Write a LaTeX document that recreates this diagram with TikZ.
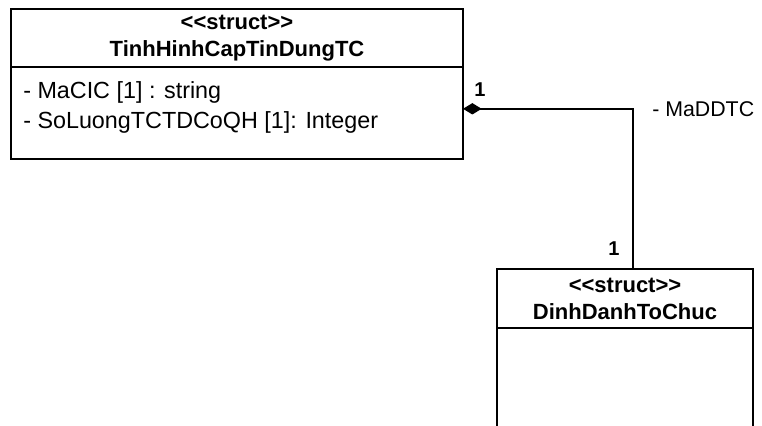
\documentclass[tikz,border=0pt]{standalone}
\usepackage{fontspec}
\setmainfont{Liberation Sans}[Ligatures=TeXOff]
\usetikzlibrary{positioning,arrows.meta}

\begin{document}
\begin{tikzpicture}[x=0.75pt,y=-0.75pt]

    \tikzstyle{classhead}=[
      draw,
      line width=1.5pt,
      outer sep=0pt,
      inner sep=0pt,
      align=center,
      font=\fontsize{16.5}{20.25}\selectfont\bfseries
    ]
    \tikzstyle{classbody}=[draw, line width=1.5pt, outer sep=0pt, inner sep=0pt]
    \tikzstyle{attrtext}=[align=left, inner sep=0pt, font=\fontsize{17.5}{22.5}\selectfont]
    \tikzstyle{mult}=[inner sep=0pt, font=\fontsize{15}{18}\selectfont\bfseries]
    \tikzstyle{rolename}=[inner sep=0pt, font=\fontsize{16}{19}\selectfont]

    \useasboundingbox (0,0) rectangle (762,425);
    \clip (0,0) rectangle (762,425);

    % --- TinhHinhCapTinDungTC ---
    \node[classhead, minimum width=339pt, minimum height=44pt] (tcHead) at (237,38) {<<struct>>\\ TinhHinhCapTinDungTC};
    \node[classbody, minimum width=339pt, minimum height=69pt, below=0pt of tcHead] (tcAttr) {};
    \node[attrtext, anchor=west] (tcAttrText) at (23,107) {- MaCIC [1] : string\\ - SoLuongTCTDCoQH [1]: Integer};

    % --- DinhDanhToChuc ---
    \node[classhead, minimum width=192pt, minimum height=44.25pt] (ddHead) at (625,298.5) {<<struct>>\\ DinhDanhToChuc};
    \node[classbody, minimum width=192pt, minimum height=100pt, below=0pt of ddHead] (ddBody) {};

    % --- Composition ---
    \draw[line width=1.4pt, {Diamond[length=14pt,width=8.5pt]}-]
      ([yshift=3.4pt]tcAttr.east) -| ([xshift=6pt]ddHead.north);
    \node[mult] (mulTc) at (480,90) {1};
    \node[rolename, anchor=west] (roleDd) at (652,109) {- MaDDTC};
    \node[mult] (mulDd) at (614,249) {1};

\end{tikzpicture}
\end{document}
